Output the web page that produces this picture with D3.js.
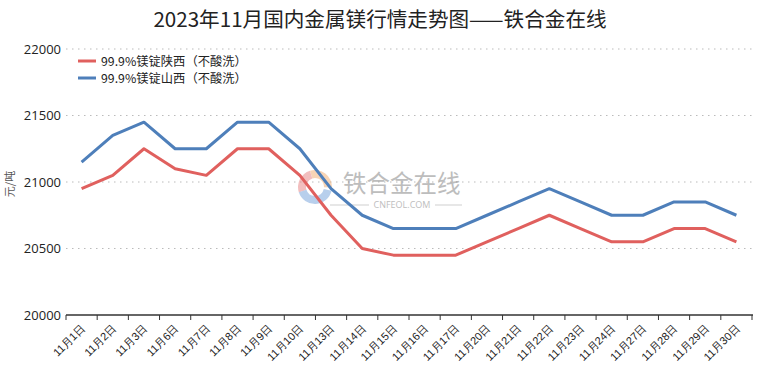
<!DOCTYPE html>
<html><head><meta charset="utf-8">
<script src="https://cdn.jsdelivr.net/npm/d3@7"></script>
<style>body{margin:0;background:#fff;} svg{display:block;font-family:"Noto Sans CJK SC","Noto Sans",sans-serif;}</style>
</head><body><svg id="c" width="760" height="374"></svg>
<script>
const categories = ["11月1日","11月2日","11月3日","11月6日","11月7日","11月8日","11月9日","11月10日","11月13日","11月14日","11月15日","11月16日","11月17日","11月20日","11月21日","11月22日","11月23日","11月24日","11月27日","11月28日","11月29日","11月30日"];
const shaanxi = [20950,21050,21250,21100,21050,21250,21250,21050,20750,20500,20450,20450,20450,20550,20650,20750,20650,20550,20550,20650,20650,20550];
const shanxi  = [21150,21350,21450,21250,21250,21450,21450,21250,20950,20750,20650,20650,20650,20750,20850,20950,20850,20750,20750,20850,20850,20750];
const seriesNames = ["99.9%镁锭陕西（不酸洗）","99.9%镁锭山西（不酸洗）"];
const yTicks = [20000,20500,21000,21500,22000];
const title = "2023年11月国内金属镁行情走势图——铁合金在线";
const yLabel = "元/吨";

const svg = d3.select("#c");
const x = d3.scaleBand().domain(categories).range([66,752]);
const y = d3.scaleLinear().domain([20000,22000]).range([315,49]);
const colors = ["#e0605e","#4e7fba"];

// title
svg.append("text").attr("x",380).attr("y",27).attr("text-anchor","middle")
  .attr("font-size",20.6).attr("fill","#222").text(title);

// gridlines
svg.append("g").selectAll("line").data(yTicks.slice(1)).join("line")
  .attr("x1",66).attr("x2",752).attr("y1",d=>y(d)).attr("y2",d=>y(d))
  .attr("stroke","#bbb").attr("stroke-width",1).attr("stroke-dasharray","1.5,4.5");

// y axis labels
const ya = svg.append("g").attr("transform","translate(66,0)")
  .call(d3.axisLeft(y).tickValues(yTicks).tickSize(0).tickPadding(5).tickFormat(d3.format("d")));
ya.select(".domain").remove();
ya.selectAll("text").attr("font-size",13).attr("fill","#222").attr("font-family","'Open Sans','Noto Sans',sans-serif");

// y axis title
svg.append("text").attr("transform","translate(14,184) rotate(-90)").attr("text-anchor","middle")
  .attr("font-size",11).attr("fill","#555").text(yLabel);

// x axis
const xa = svg.append("g").attr("transform","translate(0,315)")
  .call(d3.axisBottom(x).tickSize(0).tickFormat(d=>d));
xa.select(".domain").attr("stroke","#333").attr("stroke-width",1.5).attr("d","M66,0H753");
xa.selectAll("text").attr("font-size",11).attr("fill","#222")
  .attr("text-anchor","end").attr("dy",0)
  .attr("transform","translate(2,12) rotate(-45)");
// tick marks at band edges
const edges = categories.map(c=>x(c)).concat([752]);
svg.append("g").selectAll("line").data(edges).join("line")
  .attr("x1",d=>d).attr("x2",d=>d).attr("y1",315).attr("y2",320)
  .attr("stroke","#333").attr("stroke-width",1);

// watermark
const wm = svg.append("g").attr("opacity",0.55);
const cx=315, cy=187, r=16;
const arc = d3.arc().innerRadius(9).outerRadius(r+1);
wm.append("path").attr("transform",`translate(${cx},${cy})`).attr("d",arc({startAngle:-0.3,endAngle:1.6})).attr("fill","#f2b27a");
wm.append("path").attr("transform",`translate(${cx},${cy})`).attr("d",arc({startAngle:-1.9,endAngle:-0.3})).attr("fill","#e88a8a");
wm.append("path").attr("transform",`translate(${cx},${cy})`).attr("d",arc({startAngle:1.8,endAngle:4.4})).attr("fill","#7fa9de");
wm.append("text").attr("x",343).attr("y",192).attr("font-size",23.5).attr("fill","#888").text("铁合金在线");
wm.append("text").attr("x",402).attr("y",208).attr("text-anchor","middle").attr("font-size",9).attr("fill","#888").attr("font-family","'Open Sans',sans-serif").text("CNFEOL.COM");
wm.append("line").attr("x1",330).attr("x2",369).attr("y1",205).attr("y2",205).attr("stroke","#aaa");
wm.append("line").attr("x1",435).attr("x2",462).attr("y1",205).attr("y2",205).attr("stroke","#aaa");

// lines
const line = d3.line().x((d,i)=>x(categories[i])+x.bandwidth()/2).y(d=>y(d));
[shaanxi, shanxi].forEach((s,k)=>{
  svg.append("path").datum(s).attr("d",line).attr("fill","none")
    .attr("stroke",colors[k]).attr("stroke-width",3).attr("stroke-linejoin","round");
});

// legend
const lg = svg.append("g");
seriesNames.forEach((n,k)=>{
  const yy = 61 + k*17;
  lg.append("line").attr("x1",78).attr("x2",96).attr("y1",yy).attr("y2",yy).attr("stroke",colors[k]).attr("stroke-width",3);
  lg.append("text").attr("x",101).attr("y",yy+4.5).attr("font-size",12.3).attr("fill","#222").text(n);
});
</script></body></html>
